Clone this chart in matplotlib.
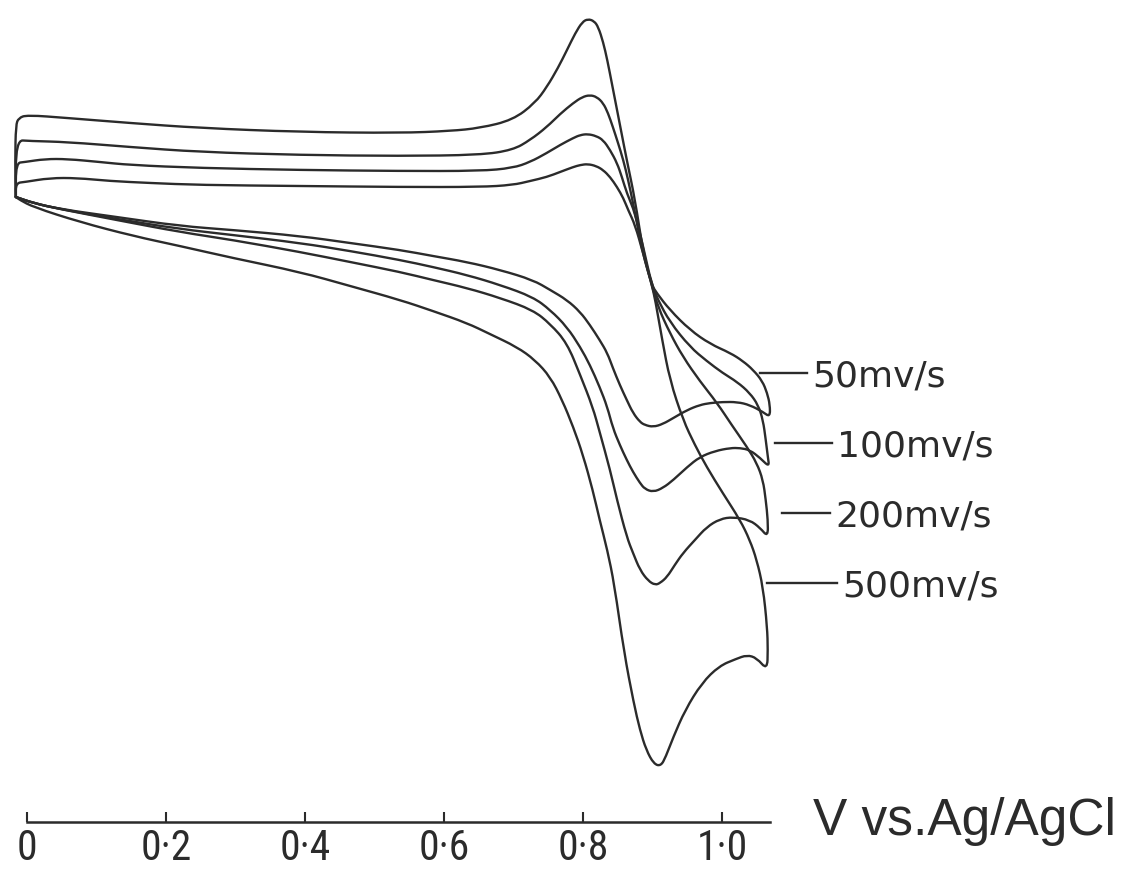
import matplotlib

matplotlib.use("Agg")

import matplotlib.pyplot as plt
import numpy as np
from matplotlib.patches import PathPatch
from matplotlib.path import Path

# potential (V vs Ag/AgCl) and current (arbitrary units)
v_500 = [-0.016, -0.017, -0.016, -0.012, 0.000, 0.058, 0.148, 0.249, 0.393, 0.537, 0.609, 0.652,
         0.699, 0.731, 0.748, 0.764, 0.777, 0.789, 0.799, 0.807, 0.816, 0.822, 0.829, 0.835,
         0.842, 0.849, 0.856, 0.863, 0.875, 0.886, 0.899, 0.904, 0.914, 0.925, 0.944, 0.961,
         0.978, 1.001, 1.026, 1.040, 1.050, 1.059, 1.065, 1.066, 1.065,
         1.050, 1.036, 1.020, 0.996, 0.971, 0.947, 0.930, 0.919, 0.912, 0.902, 0.891, 0.882,
         0.873, 0.859, 0.845, 0.835, 0.824, 0.814, 0.800, 0.786, 0.770, 0.753, 0.731, 0.705,
         0.666, 0.633, 0.584, 0.537, 0.465, 0.393, 0.296, 0.220, 0.153, 0.076, 0.009, -0.010, -0.016]
i_500 = [9.3, 13.0, 16.5, 17.2, 17.5, 17.2, 16.7, 16.2, 15.8, 15.7, 15.9, 16.2,
         17.0, 18.7, 20.3, 22.2, 24.0, 25.7, 26.8, 27.1, 26.9, 26.3, 24.8, 23.0,
         20.5, 18.0, 15.5, 13.0, 9.0, 4.0, 0.5, -1.0, -5.0, -9.0, -13.0, -15.5,
         -17.7, -20.3, -23.0, -25.0, -27.0, -29.7, -33.7, -36.0, -38.0,
         -36.8, -36.5, -36.9, -37.6, -39.3, -42.0, -44.7, -46.7, -47.6, -47.4, -46.0, -44.0,
         -41.3, -36.2, -29.4, -26.0, -23.0, -20.0, -16.5, -13.7, -11.0, -8.7, -7.0, -5.7,
         -4.4, -3.3, -2.1, -1.0, 0.4, 1.8, 3.2, 4.4, 5.4, 6.8, 8.3, 9.0, 9.3]

v_200 = [-0.016, -0.016, 0.004, 0.058, 0.148, 0.249, 0.393, 0.537, 0.652, 0.699, 0.724, 0.748,
         0.767, 0.786, 0.799, 0.810, 0.820, 0.829, 0.836, 0.843, 0.850, 0.858, 0.865, 0.872,
         0.879, 0.886, 0.899, 0.908, 0.925, 0.944, 0.968, 0.993, 1.014, 1.036, 1.050, 1.059,
         1.063, 1.066, 1.066,
         1.055, 1.040, 1.016, 0.997, 0.978, 0.961, 0.944, 0.932, 0.921, 0.911, 0.904, 0.894,
         0.882, 0.872, 0.863, 0.849, 0.839, 0.824, 0.814, 0.796, 0.777, 0.753, 0.728, 0.681,
         0.633, 0.584, 0.537, 0.465, 0.393, 0.296, 0.220, 0.129, 0.047, 0.009, -0.016]
i_200 = [9.3, 15.0, 14.9, 14.8, 14.3, 13.8, 13.5, 13.4, 13.5, 14.0, 15.0, 16.3,
         17.6, 18.7, 19.3, 19.5, 19.3, 18.7, 17.7, 16.3, 14.8, 13.0, 11.0, 8.7,
         6.2, 3.7, 0.5, -1.7, -4.3, -6.7, -9.1, -11.3, -13.5, -15.7, -17.3, -19.0,
         -21.0, -23.0, -24.7,
         -23.8, -23.0, -22.7, -22.9, -23.7, -25.0, -26.3, -27.5, -28.7, -29.3, -29.5, -29.1,
         -28.0, -26.3, -24.7, -21.0, -18.0, -14.2, -11.7, -8.5, -5.3, -3.4, -2.0, -0.8,
         0.2, 1.0, 1.8, 2.8, 3.8, 5.0, 5.8, 7.0, 8.1, 8.7, 9.3]

v_100 = [-0.016, -0.016, -0.003, 0.026, 0.058, 0.105, 0.148, 0.249, 0.393, 0.537, 0.652, 0.699,
         0.724, 0.748, 0.767, 0.786, 0.796, 0.807, 0.819, 0.829, 0.839, 0.849, 0.856, 0.863,
         0.875, 0.886, 0.899, 0.908, 0.925, 0.954, 0.978, 1.001, 1.022, 1.040, 1.052, 1.059,
         1.063, 1.066, 1.068,
         1.055, 1.040, 1.026, 1.012, 0.990, 0.968, 0.950, 0.930, 0.915, 0.901, 0.889, 0.882,
         0.872, 0.863, 0.853, 0.843, 0.835, 0.824, 0.810, 0.796, 0.777, 0.753, 0.728, 0.681,
         0.633, 0.584, 0.537, 0.465, 0.393, 0.296, 0.220, 0.129, 0.047, 0.009, -0.016]
i_100 = [9.3, 12.7, 12.8, 13.1, 13.1, 12.8, 12.5, 12.2, 12.0, 11.9, 11.9, 12.2,
         12.8, 13.7, 14.5, 15.2, 15.5, 15.6, 15.4, 15.0, 14.0, 12.7, 11.3, 9.7,
         7.7, 4.5, 0.5, -1.0, -3.2, -5.7, -7.1, -8.3, -9.2, -10.3, -11.5, -13.0,
         -15.0, -16.7, -17.7,
         -16.8, -16.0, -15.8, -15.8, -16.1, -16.7, -17.7, -19.0, -19.8, -20.2, -19.9, -19.3,
         -18.2, -17.0, -15.5, -13.8, -11.7, -9.7, -7.5, -5.7, -3.7, -2.0, -0.7, 0.5,
         1.5, 2.3, 3.0, 3.9, 4.7, 5.5, 6.1, 7.1, 8.1, 8.7, 9.3]

v_50 = [-0.016, -0.016, -0.003, 0.033, 0.072, 0.119, 0.177, 0.249, 0.393, 0.537, 0.652, 0.699,
        0.724, 0.748, 0.767, 0.786, 0.796, 0.807, 0.819, 0.829, 0.839, 0.849, 0.858, 0.865,
        0.875, 0.886, 0.899, 0.906, 0.925, 0.954, 0.983, 1.012, 1.030, 1.045, 1.058, 1.065,
        1.069, 1.069,
        1.059, 1.040, 1.022, 1.001, 0.983, 0.968, 0.950, 0.930, 0.915, 0.901, 0.889, 0.882,
        0.872, 0.863, 0.853, 0.843, 0.835, 0.824, 0.810, 0.796, 0.777, 0.753, 0.728, 0.681,
        0.633, 0.584, 0.537, 0.465, 0.393, 0.296, 0.220, 0.129, 0.047, 0.009, -0.016]
i_50 = [9.3, 10.7, 10.8, 11.2, 11.2, 10.9, 10.7, 10.5, 10.4, 10.3, 10.3, 10.5,
        10.9, 11.3, 11.8, 12.3, 12.5, 12.6, 12.4, 12.0, 11.3, 10.3, 9.2, 8.0,
        6.5, 3.8, 0.5, -0.3, -2.0, -4.0, -5.4, -6.3, -7.1, -8.0, -9.1, -10.3,
        -11.5, -12.7,
        -12.2, -11.5, -11.2, -11.2, -11.3, -11.5, -12.0, -12.8, -13.4, -13.7, -13.5, -13.2,
        -12.3, -11.0, -9.5, -7.8, -6.3, -5.0, -3.5, -2.2, -1.0, 0.0, 1.0, 2.0,
        2.8, 3.4, 4.0, 4.7, 5.4, 6.0, 6.4, 7.3, 8.1, 8.7, 9.3]

rate_labels = ["50mv/s", "100mv/s", "200mv/s", "500mv/s"]
tick_values = [0, 0.2, 0.4, 0.6, 0.8, 1.0]
tick_labels = ["0", "0·2", "0·4", "0·6", "0·8", "1·0"]

ink = "#2b2b2b"
narrow = ["Roboto Condensed", "Liberation Sans", "DejaVu Sans"]


def smooth_path(v, i):
	# quadratic bezier through segment midpoints, read points act as control points
	pts = np.column_stack([v, i])
	mids = (pts[:-1] + pts[1:]) / 2
	verts = [pts[0], mids[0]]
	codes = [Path.MOVETO, Path.LINETO]
	for k in range(1, len(pts) - 1):
		verts += [pts[k], mids[k]]
		codes += [Path.CURVE3, Path.CURVE3]
	verts.append(pts[-1])
	codes.append(Path.LINETO)
	return Path(verts, codes)


fig = plt.figure(figsize=(11.26, 8.73), dpi=100)
ax = fig.add_axes([0, 0, 1, 1])
ax.set_xlim(-0.0388, 1.5813)
ax.set_ylim(-58.3, 29.0)

for v, i in [(v_500, i_500), (v_200, i_200), (v_100, i_100), (v_50, i_50)]:
	ax.add_patch(PathPatch(smooth_path(v, i), fill=False, edgecolor=ink, lw=1.7,
	                       joinstyle="round", capstyle="round"))

# leader lines + labels on the right
leaders = [(1.055, 1.122, -8.3), (1.076, 1.158, -15.3), (1.086, 1.155, -22.3), (1.065, 1.165, -29.3)]
for (x0, x1, y), lab in zip(leaders, rate_labels):
	ax.plot([x0, x1], [y, y], color=ink, lw=1.7)
	ax.text(x1 + 0.008, y - 1.4, lab, fontsize=26, color=ink, ha="left", va="baseline",
	        family="DejaVu Sans")

# potential axis drawn as a floating bottom spine
for s in ["top", "right", "left"]:
	ax.spines[s].set_visible(False)
ax.spines["bottom"].set_position(("data", -53.2))
ax.spines["bottom"].set_bounds(0, 1.069)
ax.spines["bottom"].set_linewidth(1.8)
ax.spines["bottom"].set_color(ink)
ax.set_yticks([])
ax.set_xticks(tick_values)
ax.set_xticklabels(tick_labels, family=narrow, fontsize=30, color=ink)
ax.tick_params(axis="x", direction="in", length=7, width=1.5, color=ink, pad=4)

fig.text(813 / 1126, 1 - 835 / 873, "V vs.Ag/AgCl", fontsize=37, color=ink,
         family=["Liberation Sans", "DejaVu Sans"], ha="left", va="baseline")

fig.savefig("out.png", dpi=100)
